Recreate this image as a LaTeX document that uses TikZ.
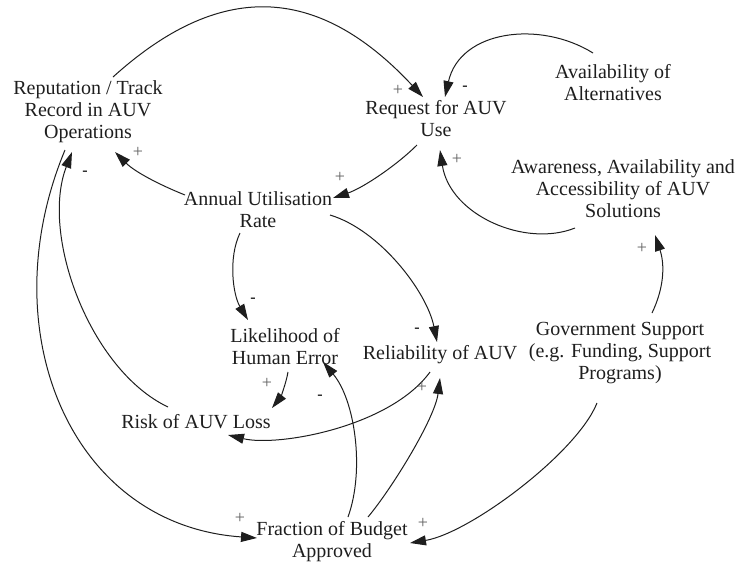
\documentclass[tikz,border=0pt]{standalone}
\usepackage{fontspec}
\setmainfont{Liberation Serif}
\usetikzlibrary{arrows.meta}
\definecolor{ink}{HTML}{1E1E1E}
\begin{document}
\begin{tikzpicture}[x=1pt,y=-1pt,
  var/.style={align=center,inner sep=0pt,text=ink,font=\fontsize{20}{22}\selectfont},
  link/.style={draw=ink,line width=1pt,-{Triangle[length=16pt,width=10pt]}},
  sgn/.style={text=ink!70,font=\fontsize{18}{18}\selectfont,inner sep=0pt},
  neg/.style={text=ink,font=\bfseries\fontsize{16}{16}\selectfont,inner sep=0pt}]
\useasboundingbox (0,0) rectangle (741,566);
\node[var] (rep) at (88,112) {Reputation / Track\\Record in AUV\\Operations};
\node[var] (req) at (436,119) {Request for AUV\\Use};
\node[var] (alt) at (613,83) {Availability of\\Alternatives};
\node[var] (aware) at (623,189) {Awareness, Availability and\\Accessibility of AUV\\Solutions};
\node[var] (annual) at (258,210) {Annual Utilisation\\Rate};
\node[var] (like) at (285,347) {Likelihood of\\Human Error};
\node[var] (rel) at (440,355) {Reliability of AUV};
\node[var] (gov) at (620,353) {Government Support\\(e.g. Funding, Support\\Programs)};
\node[var] (risk) at (196,422) {Risk of AUV Loss};
\node[var] (budget) at (332,542) {Fraction of Budget\\Approved};

% links
\draw[link] ([shift={(25,-35)}]rep.center) .. controls +(105,-95) and +(-107,-115) .. ([shift={(-13,-22)}]req.center);
\draw[link] ([shift={(-20,-30)}]alt.center) .. controls +(-53,-33) and +(15,-67) .. ([shift={(9,-22)}]req.center);
\draw[link] ([shift={(-19,26)}]req.center) .. controls +(-20,20) and +(30,-10) .. ([shift={(75,-12)}]annual.center);
\draw[link] ([shift={(-73,-15)}]annual.center) .. controls +(-25,-10) and +(20,20) .. ([shift={(27,40)}]rep.center);
\draw[link] ([shift={(-48,39)}]aware.center) .. controls +(-50,20) and +(10,65) .. ([shift={(4,31)}]req.center);
\draw[link] ([shift={(32,-40)}]gov.center) .. controls +(12,-25) and +(10,30) .. ([shift={(32,46)}]aware.center);
\draw[link] ([shift={(72,5)}]annual.center) .. controls +(50,15) and +(-10,-50) .. ([shift={(-3,-13)}]rel.center);
\draw[link] ([shift={(-18,23)}]annual.center) .. controls +(-12,25) and +(-15,-25) .. ([shift={(-37,-27)}]like.center);
\draw[link] ([shift={(3,25)}]like.center) .. controls +(-2,12) and +(8,-10) .. ([shift={(76,-14)}]risk.center);
\draw[link] ([shift={(-10,17)}]rel.center) .. controls +(-40,55) and +(50,12) .. ([shift={(32,13)}]risk.center);
\draw[link] ([shift={(16,-25)}]budget.center) .. controls +(17,-47) and +(32,38) .. ([shift={(38,15)}]like.center);
\draw[link] ([shift={(36,-25)}]budget.center) .. controls +(25,-30) and +(-5,40) .. ([shift={(0,23)}]rel.center);
\draw[link] ([shift={(-28,-15)}]risk.center) .. controls +(-78,-37) and +(-32,83) .. ([shift={(-16,40)}]rep.center);
\draw[link] ([shift={(-23,38)}]rep.center) .. controls +(-75,180) and +(-187,-13) .. ([shift={(-75,-4)}]budget.center);
\draw[link] ([shift={(-23,50)}]gov.center) .. controls +(-20,50) and +(60,-10) .. ([shift={(78,1)}]budget.center);

% polarity signs
\node[sgn] (s1) at (398,90) {+};
\node[neg] (s2) at (465,88) {-};
\node[sgn] (s3) at (340,177) {+};
\node[sgn] (s4) at (138,152) {+};
\node[neg] (s5) at (85,173) {-};
\node[sgn] (s6) at (457,159) {+};
\node[sgn] (s7) at (642,248) {+};
\node[neg] (s8) at (417,330) {-};
\node[neg] (s9) at (253,300) {-};
\node[sgn] (s10) at (267,383) {+};
\node[neg] (s11) at (320,397) {-};
\node[sgn] (s12) at (422,387) {+};
\node[sgn] (s13) at (240,518) {+};
\node[sgn] (s14) at (423,523) {+};
\end{tikzpicture}
\end{document}
